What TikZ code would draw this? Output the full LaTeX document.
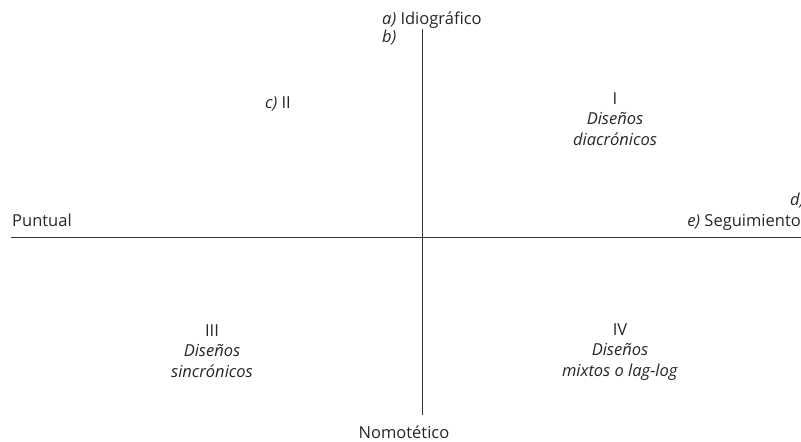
\documentclass[tikz,border=0pt]{standalone}
\usepackage{fontspec}
\setmainfont{Open Sans}
\begin{document}
\begin{tikzpicture}[x=1pt,y=-1pt,
  lbl/.style={inner sep=0pt,font=\fontsize{16.5}{20.5}\selectfont,text=black!85},
  quad/.style={lbl,align=center},
  axis/.style={draw=black!80,line width=1pt}]
\useasboundingbox (0,0) rectangle (801,442);
% axis end points
\coordinate (top) at (422,29);
\coordinate (bot) at (422,415);
\coordinate (left) at (11,237.5);
\coordinate (right) at (801,237.5);
\draw[axis] (top) -- (bot);
\draw[axis] (left) -- (right);
% labels
\node[lbl,anchor=base west] (idio) at (382,24) {\textit{a)} Idiográfico};
\node[lbl,anchor=base west] (b) at (382,42) {\textit{b)}};
\node[lbl,anchor=base] (c) at (278,108) {\textit{c)} II};
\node[quad,anchor=base] (q1) at (615,145) {I\\\textit{Diseños}\\\textit{diacrónicos}};
\node[lbl,anchor=base west] (d) at (790,205) {\textit{d)}};
\node[lbl,anchor=base east] (seg) at (801,226) {\textit{e)} Seguimiento};
\node[lbl,anchor=base west] (punt) at (12,226) {Puntual};
\node[quad,anchor=base] (q3) at (212,377) {III\\\textit{Diseños}\\\textit{sincrónicos}};
\node[quad,anchor=base] (q4) at (620,376) {IV\\\textit{Diseños}\\\textit{mixtos o lag-log}};
\node[lbl,anchor=base] (nomo) at (404,438) {Nomotético};
\end{tikzpicture}
\end{document}
